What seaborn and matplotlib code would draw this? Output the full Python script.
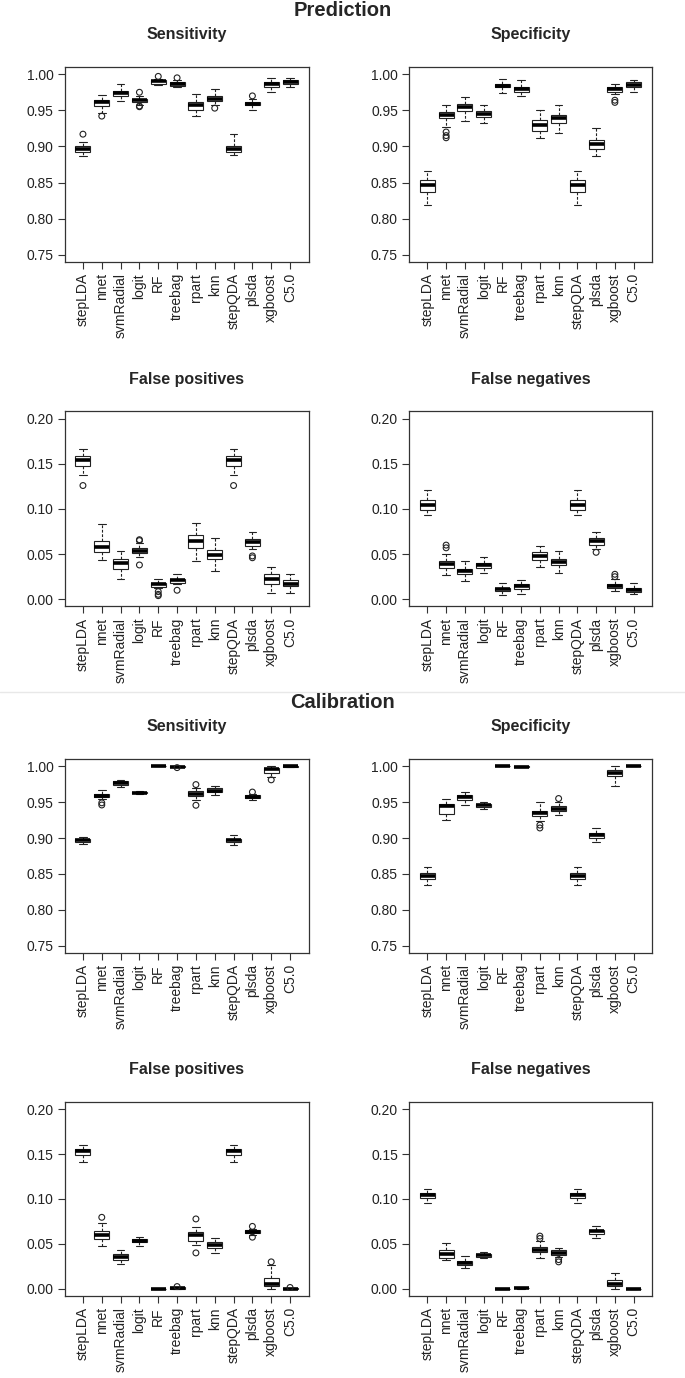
import pandas as pd
import matplotlib
matplotlib.use("Agg")
import matplotlib.pyplot as plt
import seaborn as sns
import numpy as np

methods = ['stepLDA', 'nnet', 'svmRadial', 'logit', 'RF', 'treebag', 'rpart',
           'knn', 'stepQDA', 'plsda', 'xgboost', 'C5.0']

# ---- Prediction: Sensitivity
ps_lo  = [0.887, 0.947, 0.963, 0.958, 0.985, 0.983, 0.942, 0.957, 0.888, 0.951, 0.976, 0.982]
ps_q1  = [0.892, 0.956, 0.970, 0.962, 0.987, 0.984, 0.951, 0.963, 0.892, 0.957, 0.982, 0.986]
ps_med = [0.896, 0.962, 0.974, 0.964, 0.990, 0.987, 0.957, 0.966, 0.896, 0.959, 0.986, 0.989]
ps_q3  = [0.901, 0.964, 0.977, 0.966, 0.992, 0.989, 0.962, 0.970, 0.901, 0.962, 0.989, 0.992]
ps_hi  = [0.906, 0.971, 0.986, 0.970, 0.994, 0.992, 0.972, 0.979, 0.917, 0.966, 0.995, 0.995]
ps_out = [[0.917], [0.942], [], [0.975, 0.955, 0.956], [0.997], [0.995], [], [0.953],
          [], [0.970], [], []]

# ---- Prediction: Specificity
pc_lo  = [0.819, 0.927, 0.935, 0.932, 0.974, 0.970, 0.911, 0.919, 0.819, 0.887, 0.972, 0.975]
pc_q1  = [0.837, 0.939, 0.949, 0.941, 0.982, 0.976, 0.921, 0.933, 0.837, 0.897, 0.975, 0.982]
pc_med = [0.846, 0.944, 0.954, 0.945, 0.984, 0.980, 0.930, 0.939, 0.846, 0.904, 0.979, 0.985]
pc_q3  = [0.853, 0.948, 0.959, 0.949, 0.987, 0.983, 0.936, 0.944, 0.853, 0.909, 0.982, 0.989]
pc_hi  = [0.866, 0.958, 0.969, 0.957, 0.994, 0.992, 0.950, 0.958, 0.866, 0.926, 0.986, 0.992]
pc_out = [[], [0.920, 0.915, 0.912], [], [], [], [], [], [], [], [], [0.964, 0.961], []]

# ---- Prediction: False positives
pf_lo  = [0.138, 0.044, 0.022, 0.047, 0.012, 0.0166, 0.042, 0.031, 0.138, 0.056, 0.0074, 0.0074]
pf_q1  = [0.148, 0.052, 0.034, 0.051, 0.014, 0.018, 0.057, 0.045, 0.148, 0.059, 0.017, 0.015]
pf_med = [0.154, 0.058, 0.040, 0.054, 0.0166, 0.021, 0.065, 0.049, 0.154, 0.063, 0.022, 0.0174]
pf_q3  = [0.159, 0.065, 0.045, 0.057, 0.018, 0.023, 0.071, 0.055, 0.159, 0.067, 0.028, 0.021]
pf_hi  = [0.166, 0.083, 0.054, 0.062, 0.0226, 0.028, 0.085, 0.068, 0.166, 0.074, 0.036, 0.028]
pf_out = [[0.126], [], [], [0.066, 0.065, 0.038], [0.0085, 0.0055, 0.004], [0.010], [], [],
          [0.126], [0.048, 0.046], [], []]

# ---- Prediction: False negatives
pn_lo  = [0.093, 0.027, 0.0207, 0.0296, 0.005, 0.006, 0.036, 0.029, 0.093, 0.056, 0.009, 0.0055]
pn_q1  = [0.099, 0.035, 0.028, 0.035, 0.009, 0.0115, 0.044, 0.038, 0.099, 0.060, 0.013, 0.0078]
pn_med = [0.1046, 0.039, 0.031, 0.0377, 0.011, 0.0144, 0.0484, 0.0418, 0.1046, 0.064, 0.015, 0.0104]
pn_q3  = [0.110, 0.042, 0.034, 0.040, 0.013, 0.0166, 0.052, 0.045, 0.110, 0.068, 0.0174, 0.013]
pn_hi  = [0.1205, 0.050, 0.042, 0.0466, 0.0177, 0.0214, 0.0595, 0.054, 0.1205, 0.074, 0.022, 0.0177]
pn_out = [[], [0.060, 0.057], [], [], [], [], [], [], [], [0.052], [0.0277, 0.025], []]

# ---- Calibration: Sensitivity
cs_lo  = [0.892, 0.955, 0.971, 0.961, 1.000, 0.9985, 0.9535, 0.9605, 0.891, 0.9535, 0.985, 0.9985]
cs_q1  = [0.8945, 0.957, 0.974, 0.962, 1.000, 0.999, 0.958, 0.964, 0.8945, 0.9558, 0.9907, 0.9993]
cs_med = [0.897, 0.959, 0.977, 0.963, 1.000, 0.9995, 0.9614, 0.966, 0.897, 0.9577, 0.9963, 1.000]
cs_q3  = [0.899, 0.961, 0.979, 0.9647, 1.000, 1.000, 0.965, 0.969, 0.899, 0.9596, 0.9977, 1.000]
cs_hi  = [0.902, 0.967, 0.981, 0.9656, 1.000, 1.000, 0.970, 0.972, 0.9038, 0.9614, 1.000, 1.000]
cs_out = [[], [0.949, 0.946], [], [], [], [0.998], [0.9744, 0.9456], [], [], [0.964], [0.981], []]

# ---- Calibration: Specificity
cc_lo  = [0.835, 0.9256, 0.9456, 0.941, 1.000, 0.9986, 0.924, 0.932, 0.835, 0.8945, 0.973, 1.000]
cc_q1  = [0.8434, 0.934, 0.9526, 0.943, 1.000, 0.9986, 0.930, 0.937, 0.8434, 0.900, 0.986, 1.000]
cc_med = [0.847, 0.944, 0.957, 0.9456, 1.000, 0.9993, 0.935, 0.941, 0.847, 0.904, 0.991, 1.000]
cc_q3  = [0.851, 0.948, 0.9605, 0.948, 1.000, 1.000, 0.938, 0.944, 0.851, 0.907, 0.994, 1.000]
cc_hi  = [0.859, 0.9545, 0.964, 0.950, 1.000, 1.000, 0.950, 0.950, 0.859, 0.914, 1.000, 1.000]
cc_out = [[], [], [], [], [], [], [0.918, 0.914], [0.955], [], [], [], []]

# ---- Calibration: False positives
cf_lo  = [0.1417, 0.0475, 0.028, 0.0475, 0.0, 0.0, 0.0486, 0.040, 0.1417, 0.060, 0.0, 0.0]
cf_q1  = [0.1495, 0.056, 0.0318, 0.052, 0.0, 0.0, 0.0535, 0.046, 0.1495, 0.062, 0.003, 0.0]
cf_med = [0.153, 0.060, 0.0355, 0.0535, 0.0, 0.001, 0.0598, 0.0486, 0.153, 0.0635, 0.0049, 0.0]
cf_q3  = [0.156, 0.064, 0.0385, 0.0553, 0.0, 0.0015, 0.0636, 0.052, 0.156, 0.066, 0.0123, 0.0005]
cf_hi  = [0.160, 0.073, 0.043, 0.058, 0.0, 0.0015, 0.069, 0.057, 0.160, 0.067, 0.026, 0.001]
cf_out = [[], [0.0796], [], [], [], [0.0025], [0.0778, 0.040], [], [], [0.0695, 0.0575],
          [0.030], [0.0015]]

# ---- Calibration: False negatives
cn_lo  = [0.096, 0.0318, 0.0236, 0.0344, 0.0, 0.0, 0.0344, 0.035, 0.096, 0.057, 0.0, 0.0]
cn_q1  = [0.101, 0.0348, 0.026, 0.0355, 0.0, 0.0005, 0.041, 0.0374, 0.101, 0.061, 0.003, 0.0]
cn_med = [0.104, 0.039, 0.0288, 0.0374, 0.0, 0.001, 0.0437, 0.040, 0.104, 0.064, 0.0056, 0.0]
cn_q3  = [0.1065, 0.0437, 0.031, 0.039, 0.0, 0.0012, 0.0467, 0.043, 0.1065, 0.066, 0.010, 0.0]
cn_hi  = [0.111, 0.0505, 0.036, 0.041, 0.0, 0.0015, 0.0535, 0.046, 0.111, 0.070, 0.018, 0.0]
cn_out = [[], [], [], [], [], [], [0.0587, 0.056], [0.0325, 0.030], [], [], [], []]

panels = [
    ("Sensitivity", (ps_lo, ps_q1, ps_med, ps_q3, ps_hi), ps_out),
    ("Specificity", (pc_lo, pc_q1, pc_med, pc_q3, pc_hi), pc_out),
    ("False positives", (pf_lo, pf_q1, pf_med, pf_q3, pf_hi), pf_out),
    ("False negatives", (pn_lo, pn_q1, pn_med, pn_q3, pn_hi), pn_out),
    ("Sensitivity", (cs_lo, cs_q1, cs_med, cs_q3, cs_hi), cs_out),
    ("Specificity", (cc_lo, cc_q1, cc_med, cc_q3, cc_hi), cc_out),
    ("False positives", (cf_lo, cf_q1, cf_med, cf_q3, cf_hi), cf_out),
    ("False negatives", (cn_lo, cn_q1, cn_med, cn_q3, cn_hi), cn_out),
]

sns.set_style("white")
plt.rcParams['font.family'] = ['Liberation Sans', 'DejaVu Sans']

W, H = 685, 1378
fig = plt.figure(figsize=(W / 100, H / 100), dpi=100)

# pixel boxes of the axes (x0, x1, y0, y1)
xs = [(64.5, 308.5), (409, 652)]
ys = [(67, 262), (411.5, 606.5), (759, 953), (1102, 1296)]


def px_rect(x0, x1, y0, y1):
    return [x0 / W, 1 - y1 / H, (x1 - x0) / W, (y1 - y0) / H]


for k, (title, stats, outs) in enumerate(panels):
    row, col = divmod(k, 2)
    ax = fig.add_axes(px_rect(*xs[col], *ys[row]))

    # five-number summary per method -> boxes drawn by seaborn
    rows = []
    for i, m in enumerate(methods):
        for s in stats:
            rows.append((m, s[i]))
    df = pd.DataFrame(rows, columns=['method', 'value'])
    sns.boxplot(data=df, x='method', y='value', order=methods, ax=ax,
                whis=(0, 100), width=0.8, color='white', linecolor='#222222',
                linewidth=0.8, showfliers=False,
                whiskerprops=dict(linestyle=(0, (2.5, 1.5))),
                medianprops=dict(linewidth=2.6, color='black', solid_capstyle='butt'))

    orows = [(m, v) for m, vals in zip(methods, outs) for v in vals]
    if orows:
        dfo = pd.DataFrame(orows, columns=['method', 'value'])
        sns.stripplot(data=dfo, x='method', y='value', order=methods, ax=ax,
                      jitter=False, size=4.2, color='#222222', facecolor='none',
                      edgecolor='#222222', linewidth=0.8, zorder=5)

    if row in (0, 2):
        ax.set_ylim(0.74, 1.01)
        ax.set_yticks([0.75, 0.80, 0.85, 0.90, 0.95, 1.00])
    else:
        ax.set_ylim(-0.008, 0.208)
        ax.set_yticks([0.00, 0.05, 0.10, 0.15, 0.20])
    ax.yaxis.set_major_formatter(matplotlib.ticker.FormatStrFormatter('%.2f'))
    ax.set_xlim(-0.98, 11.98)
    ax.set_xticks(range(len(methods)))
    ax.set_xticklabels(methods, rotation=90)
    ax.set_xlabel('')
    ax.set_ylabel('')
    ax.tick_params(axis='both', direction='out', length=5, width=0.8, color='#333333',
                   labelsize=10, labelcolor='#222222', pad=3, left=True, bottom=True)
    for sp in ax.spines.values():
        sp.set_visible(True)
        sp.set_color('#333333')
        sp.set_linewidth(0.9)
    ax.set_title(title, fontsize=11.5, fontweight='bold', pad=20)

fig.text(0.5, 1 - 10 / H, 'Prediction', ha='center', va='center',
         fontsize=14.5, fontweight='bold')
fig.text(0.5, 1 - 703 / H, 'Calibration', ha='center', va='center',
         fontsize=14.5, fontweight='bold')
fig.add_artist(plt.Line2D([0, 1], [1 - 692 / H, 1 - 692 / H], color='#e8e8e8', linewidth=1))

fig.savefig('out.png', dpi=100)
